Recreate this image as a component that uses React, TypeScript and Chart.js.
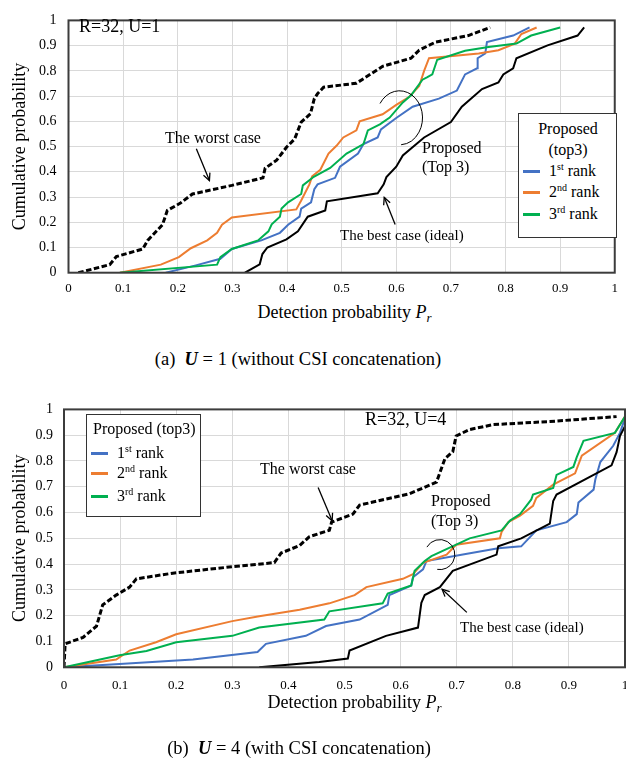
import React, { useEffect, useRef } from "react";
import { Chart, registerables } from "chart.js";
Chart.register(...registerables);

const SERIF = "'Liberation Serif', 'Times New Roman', serif";
Chart.defaults.font.family = SERIF;
const C_BLUE = "#4472C4";
const C_ORANGE = "#ED7D31";
const C_GREEN = "#00B050";

// ---------- (a) U = 1 ----------
const aWorstX = [0.018, 0.0755, 0.0876, 0.136, 0.145, 0.172, 0.181, 0.205, 0.227, 0.299, 0.356, 0.36, 0.381, 0.399, 0.414, 0.426, 0.443, 0.45, 0.456, 0.467, 0.527, 0.566, 0.575, 0.627, 0.642, 0.672, 0.732, 0.772];
const aWorstY = [0, 0.032, 0.064, 0.094, 0.128, 0.19, 0.247, 0.276, 0.312, 0.346, 0.376, 0.414, 0.446, 0.497, 0.53, 0.597, 0.63, 0.69, 0.71, 0.735, 0.751, 0.805, 0.818, 0.85, 0.882, 0.914, 0.94, 0.972];
const aBestX = [0.323, 0.35, 0.355, 0.364, 0.399, 0.42, 0.438, 0.47, 0.473, 0.566, 0.577, 0.582, 0.6, 0.612, 0.651, 0.7, 0.72, 0.757, 0.787, 0.796, 0.814, 0.82, 0.877, 0.932, 0.944];
const aBestY = [0, 0.033, 0.074, 0.1, 0.132, 0.164, 0.222, 0.247, 0.283, 0.315, 0.35, 0.379, 0.42, 0.465, 0.536, 0.597, 0.658, 0.728, 0.754, 0.786, 0.81, 0.85, 0.901, 0.94, 0.972];
const aRank1X = [0.178, 0.233, 0.278, 0.299, 0.353, 0.387, 0.402, 0.423, 0.426, 0.444, 0.45, 0.456, 0.488, 0.497, 0.53, 0.54, 0.566, 0.572, 0.6, 0.63, 0.678, 0.711, 0.726, 0.748, 0.749, 0.763, 0.766, 0.814, 0.844];
const aRank1Y = [0, 0.029, 0.055, 0.094, 0.128, 0.158, 0.19, 0.222, 0.254, 0.279, 0.331, 0.35, 0.376, 0.42, 0.472, 0.51, 0.536, 0.568, 0.613, 0.658, 0.69, 0.722, 0.786, 0.81, 0.85, 0.869, 0.914, 0.94, 0.972];
const aRank2X = [0.094, 0.169, 0.202, 0.224, 0.254, 0.272, 0.281, 0.299, 0.417, 0.426, 0.441, 0.446, 0.461, 0.476, 0.491, 0.503, 0.527, 0.533, 0.575, 0.6, 0.624, 0.642, 0.651, 0.66, 0.751, 0.787, 0.817, 0.829, 0.857];
const aRank2Y = [0, 0.032, 0.062, 0.097, 0.128, 0.158, 0.19, 0.219, 0.251, 0.286, 0.35, 0.382, 0.408, 0.472, 0.504, 0.536, 0.564, 0.6, 0.628, 0.665, 0.697, 0.74, 0.8, 0.85, 0.869, 0.882, 0.908, 0.946, 0.972];
const aRank3X = [0.094, 0.272, 0.278, 0.299, 0.347, 0.366, 0.372, 0.387, 0.39, 0.402, 0.426, 0.429, 0.449, 0.479, 0.509, 0.54, 0.548, 0.57, 0.588, 0.612, 0.627, 0.648, 0.657, 0.666, 0.675, 0.726, 0.769, 0.82, 0.847, 0.9];
const aRank3Y = [0, 0.032, 0.062, 0.094, 0.128, 0.164, 0.192, 0.222, 0.254, 0.279, 0.312, 0.346, 0.38, 0.415, 0.472, 0.51, 0.564, 0.588, 0.615, 0.675, 0.703, 0.765, 0.775, 0.786, 0.844, 0.88, 0.895, 0.908, 0.94, 0.972];

// ---------- (b) U = 4 ----------
const bWorstX = [0, 0.002, 0.034, 0.058, 0.069, 0.093, 0.117, 0.129, 0.194, 0.3, 0.375, 0.387, 0.42, 0.437, 0.455, 0.473, 0.477, 0.515, 0.527, 0.616, 0.664, 0.679, 0.693, 0.699, 0.723, 0.765, 0.866, 0.985];
const bWorstY = [0, 0.091, 0.116, 0.16, 0.242, 0.28, 0.311, 0.343, 0.365, 0.39, 0.406, 0.443, 0.472, 0.506, 0.519, 0.531, 0.563, 0.594, 0.629, 0.673, 0.718, 0.809, 0.836, 0.897, 0.922, 0.941, 0.953, 0.972];
const bBestX = [0.348, 0.455, 0.506, 0.509, 0.574, 0.631, 0.637, 0.643, 0.67, 0.693, 0.771, 0.774, 0.815, 0.866, 0.872, 0.878, 0.976, 0.985, 0.991, 1.0];
const bBestY = [0, 0.021, 0.034, 0.065, 0.122, 0.154, 0.25, 0.28, 0.311, 0.374, 0.437, 0.469, 0.5, 0.557, 0.645, 0.67, 0.783, 0.834, 0.897, 0.935];
const bRank1X = [0, 0.099, 0.23, 0.345, 0.36, 0.431, 0.467, 0.527, 0.577, 0.58, 0.619, 0.622, 0.64, 0.646, 0.711, 0.774, 0.815, 0.842, 0.896, 0.914, 0.917, 0.944, 0.947, 0.956, 0.979, 0.991, 1.0];
const bRank1Y = [0, 0.013, 0.03, 0.059, 0.091, 0.122, 0.16, 0.185, 0.242, 0.28, 0.317, 0.349, 0.38, 0.412, 0.437, 0.462, 0.469, 0.531, 0.563, 0.594, 0.639, 0.689, 0.727, 0.796, 0.859, 0.909, 0.966];
const bRank2X = [0, 0.093, 0.117, 0.164, 0.2, 0.3, 0.348, 0.42, 0.473, 0.518, 0.539, 0.604, 0.622, 0.64, 0.682, 0.699, 0.777, 0.78, 0.792, 0.813, 0.836, 0.842, 0.872, 0.911, 0.923, 0.982, 1.0];
const bRank2Y = [0, 0.03, 0.065, 0.097, 0.128, 0.179, 0.198, 0.223, 0.248, 0.28, 0.311, 0.343, 0.361, 0.405, 0.437, 0.475, 0.5, 0.525, 0.563, 0.588, 0.626, 0.657, 0.708, 0.752, 0.821, 0.909, 0.972];
const bRank3X = [0, 0.099, 0.147, 0.2, 0.3, 0.348, 0.464, 0.473, 0.568, 0.577, 0.619, 0.625, 0.643, 0.655, 0.723, 0.78, 0.795, 0.813, 0.833, 0.836, 0.872, 0.878, 0.908, 0.914, 0.926, 0.982, 1.0];
const bRank3Y = [0, 0.047, 0.063, 0.097, 0.122, 0.154, 0.185, 0.217, 0.248, 0.286, 0.317, 0.374, 0.412, 0.431, 0.5, 0.531, 0.569, 0.594, 0.651, 0.67, 0.695, 0.746, 0.777, 0.815, 0.878, 0.909, 0.972];

const axisMin = 0;
const axisMax = 1;
const tickStep = 0.1;

const pts = (xs: number[], ys: number[]) => xs.map((x, i) => ({ x, y: ys[i] }));
const fmtTick = (v: any) => String(Number(Number(v).toFixed(2)));

function makeDatasets(wx, wy, bx, by, r1x, r1y, r2x, r2y, r3x, r3y) {
  const base = { showLine: true, pointRadius: 0, borderWidth: 2, tension: 0, fill: false };
  return [
    { ...base, label: "The worst case", data: pts(wx, wy), borderColor: "#000", borderWidth: 3, borderDash: [5.5, 2.5], order: 1 },
    { ...base, label: "The best case (ideal)", data: pts(bx, by), borderColor: "#000", order: 2 },
    { ...base, label: "1st rank", data: pts(r1x, r1y), borderColor: C_BLUE, order: 5 },
    { ...base, label: "2nd rank", data: pts(r2x, r2y), borderColor: C_ORANGE, order: 4 },
    { ...base, label: "3rd rank", data: pts(r3x, r3y), borderColor: C_GREEN, order: 3 },
  ];
}

const annotPlugin = {
  id: "annot",
  afterDatasetsDraw(chart: any, _args: any, opts: any) {
    const { ctx, chartArea: ca, scales } = chart;
    const sx = scales.x, sy = scales.y;
    ctx.save();
    ctx.strokeStyle = "#3c3c3c";
    ctx.lineWidth = 2;
    ctx.strokeRect(ca.left, ca.top, ca.right - ca.left, ca.bottom - ca.top);
    ctx.strokeStyle = "#000";
    ctx.lineWidth = 1.3;
    for (const a of opts.arrows || []) {
      const x1 = sx.getPixelForValue(a.from[0]), y1 = sy.getPixelForValue(a.from[1]);
      const x2 = sx.getPixelForValue(a.to[0]), y2 = sy.getPixelForValue(a.to[1]);
      ctx.beginPath();
      ctx.moveTo(x1, y1);
      ctx.lineTo(x2, y2);
      ctx.stroke();
      const ang = Math.atan2(y2 - y1, x2 - x1);
      const L = 8, W = 0.45;
      ctx.beginPath();
      ctx.moveTo(x2 - L * Math.cos(ang - W), y2 - L * Math.sin(ang - W));
      ctx.lineTo(x2, y2);
      ctx.lineTo(x2 - L * Math.cos(ang + W), y2 - L * Math.sin(ang + W));
      ctx.stroke();
    }
    ctx.lineWidth = 1;
    for (const c of opts.arcs || []) {
      const cx = sx.getPixelForValue(c.c[0]), cy = sy.getPixelForValue(c.c[1]);
      ctx.beginPath();
      ctx.ellipse(cx, cy, c.rx, c.ry, 0, (c.start * Math.PI) / 180, (c.end * Math.PI) / 180);
      ctx.stroke();
    }
    ctx.restore();
  },
};

function makeConfig(datasets, o) {
  return {
    type: "scatter",
    data: { datasets },
    plugins: [annotPlugin],
    options: {
      responsive: false,
      animation: false,
      layout: { padding: { top: o.padTop, right: o.padRight, left: 0, bottom: 0 } },
      plugins: {
        legend: { display: false },
        tooltip: { enabled: false },
        annot: { arrows: o.arrows, arcs: o.arcs },
      },
      scales: {
        x: {
          type: "linear",
          min: axisMin,
          max: axisMax,
          ticks: { stepSize: tickStep, padding: o.xTickPad, maxRotation: 0, autoSkip: false, color: "#000", font: { family: SERIF, size: 13 }, callback: fmtTick },
          grid: { color: "#d9d9d9", lineWidth: 1, drawTicks: false },
          border: { display: false },
          afterFit: (s: any) => { s.height = o.xHeight; },
        },
        y: {
          type: "linear",
          min: axisMin,
          max: axisMax,
          ticks: { stepSize: tickStep, padding: o.yTickPad, autoSkip: false, color: "#000", font: { family: SERIF, size: 14 }, callback: fmtTick },
          grid: { color: "#d9d9d9", lineWidth: 1, drawTicks: false },
          border: { display: false },
          title: { display: true, text: "Cumulative probability", color: "#000", font: { family: SERIF, size: 18 }, padding: { top: 9, bottom: 0 } },
          afterFit: (s: any) => { s.width = o.yWidth; },
        },
      },
    },
  };
}

function T({ x, y, size = 16, center = false, children }: any) {
  return (
    <div
      style={{
        position: "absolute",
        left: x,
        top: y,
        transform: center ? "translate(-50%, -50%)" : "translate(0, -50%)",
        fontFamily: SERIF,
        fontSize: size,
        lineHeight: 1,
        whiteSpace: "nowrap",
        color: "#000",
      }}
    >
      {children}
    </div>
  );
}

const Sup = ({ children }: any) => (
  <span style={{ fontSize: 10, position: "relative", top: -6 }}>{children}</span>
);

function Box({ left, top, width, height }: any) {
  return (
    <div
      style={{
        position: "absolute",
        left,
        top,
        width,
        height,
        boxSizing: "border-box",
        border: "1.5px solid #333",
        background: "#fff",
      }}
    />
  );
}

function Swatch({ x, y, color }: any) {
  return <div style={{ position: "absolute", left: x, top: y - 1.5, width: 17, height: 3, background: color }} />;
}

export default function App() {
  const refA = useRef<HTMLCanvasElement>(null);
  const refB = useRef<HTMLCanvasElement>(null);

  useEffect(() => {
    const chA = new Chart(
      refA.current!,
      makeConfig(
        makeDatasets(aWorstX, aWorstY, aBestX, aBestY, aRank1X, aRank1Y, aRank2X, aRank2Y, aRank3X, aRank3Y),
        {
          padTop: 13,
          padRight: 5,
          xHeight: 27.3,
          yWidth: 68.5,
          xTickPad: 8,
          yTickPad: 12,
          arrows: [
            { from: [0.234, 0.491], to: [0.258, 0.365] },
            { from: [0.598, 0.191], to: [0.578, 0.299] },
          ],
          arcs: [{ c: [0.606, 0.614], rx: 23, ry: 27, start: -148, end: 86 }],
        }
      ) as any
    );
    const chB = new Chart(
      refB.current!,
      makeConfig(
        makeDatasets(bWorstX, bWorstY, bBestX, bBestY, bRank1X, bRank1Y, bRank2X, bRank2Y, bRank3X, bRank3Y),
        {
          padTop: 12.7,
          padRight: 15,
          xHeight: 32.7,
          yWidth: 64,
          xTickPad: 10,
          yTickPad: 11,
          arrows: [
            { from: [0.453, 0.697], to: [0.478, 0.568] },
            { from: [0.718, 0.213], to: [0.674, 0.303] },
          ],
          arcs: [{ c: [0.67, 0.437], rx: 15, ry: 15, start: -150, end: 100 }],
        }
      ) as any
    );
    let alive = true;
    if ((document as any).fonts && (document as any).fonts.load) {
      Promise.all([
        (document as any).fonts.load("14px 'Liberation Serif'"),
        (document as any).fonts.load("italic 14px 'Liberation Serif'"),
      ]).then(() => {
        if (alive) {
          chA.update();
          chB.update();
        }
      }).catch(() => {});
    }
    return () => {
      alive = false;
      chA.destroy();
      chB.destroy();
    };
  }, []);

  return (
    <div style={{ position: "absolute", left: 0, top: 0, width: 626, height: 762, overflow: "hidden", background: "#fff" }}>
      <canvas ref={refA} width={626} height={300} style={{ position: "absolute", left: 0, top: 0 }} />
      <canvas ref={refB} width={640} height={310} style={{ position: "absolute", left: 0, top: 390 }} />

      {/* (a) annotations */}
      <T x={79} y={26} size={18}>R=32, U=1</T>
      <T x={165} y={138}>The worst case</T>
      <T x={422} y={148}>Proposed</T>
      <T x={422} y={167}>(Top 3)</T>
      <T x={340} y={235} size={15}>The best case (ideal)</T>
      <Box left={518} top={113} width={99} height={125} />
      <T x={568} y={129} center>Proposed</T>
      <T x={568} y={150} center>(top3)</T>
      <Swatch x={523} y={171} color={C_BLUE} />
      <Swatch x={523} y={192} color={C_ORANGE} />
      <Swatch x={523} y={214} color={C_GREEN} />
      <T x={549} y={171}>1<Sup>st</Sup> rank</T>
      <T x={549} y={192}>2<Sup>nd</Sup> rank</T>
      <T x={549} y={214}>3<Sup>rd</Sup> rank</T>
      <T x={344.5} y={312} size={18} center>
        Detection probability <i>P</i><span style={{ fontSize: 13, fontStyle: "italic", position: "relative", top: 4 }}>r</span>
      </T>
      <T x={298} y={359} size={18.5} center>
        (a)&nbsp;&nbsp;<b><i>U</i></b> = 1 (without CSI concatenation)
      </T>

      {/* (b) annotations */}
      <T x={365} y={419} size={18}>R=32, U=4</T>
      <T x={260} y={469}>The worst case</T>
      <T x={431} y={501}>Proposed</T>
      <T x={431} y={521}>(Top 3)</T>
      <T x={460} y={627} size={15}>The best case (ideal)</T>
      <Box left={86} top={414} width={115} height={103} />
      <T x={93} y={429}>Proposed (top3)</T>
      <Swatch x={91} y={453} color={C_BLUE} />
      <Swatch x={91} y={473} color={C_ORANGE} />
      <Swatch x={91} y={496} color={C_GREEN} />
      <T x={117} y={453}>1<Sup>st</Sup> rank</T>
      <T x={117} y={473}>2<Sup>nd</Sup> rank</T>
      <T x={117} y={496}>3<Sup>rd</Sup> rank</T>
      <T x={354.5} y={702} size={18} center>
        Detection probability <i>P</i><span style={{ fontSize: 13, fontStyle: "italic", position: "relative", top: 4 }}>r</span>
      </T>
      <T x={299} y={748} size={18.5} center>
        (b)&nbsp;&nbsp;<b><i>U</i></b> = 4 (with CSI concatenation)
      </T>
    </div>
  );
}
